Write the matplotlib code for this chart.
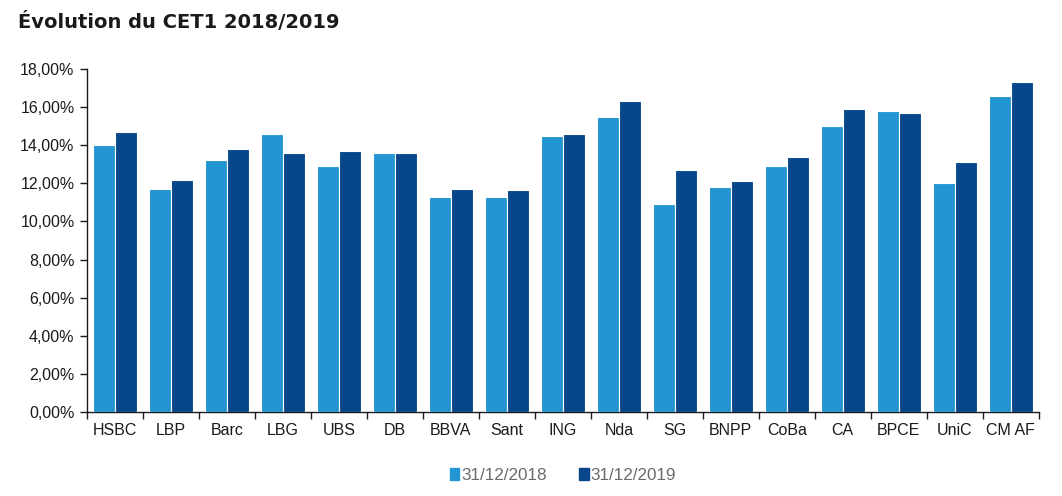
import numpy as np
import matplotlib.pyplot as plt
from matplotlib.ticker import FuncFormatter, FixedLocator
from matplotlib.patches import Patch

banks = ["HSBC", "LBP", "Barc", "LBG", "UBS", "DB", "BBVA", "Sant", "ING",
         "Nda", "SG", "BNPP", "CoBa", "CA", "BPCE", "UniC", "CM AF"]
cet1_2018 = [14.0, 11.7, 13.2, 14.6, 12.9, 13.6, 11.3, 11.3, 14.5,
             15.5, 10.9, 11.8, 12.9, 15.0, 15.8, 12.0, 16.6]
cet1_2019 = [14.7, 12.2, 13.8, 13.6, 13.7, 13.6, 11.7, 11.65, 14.6,
             16.3, 12.7, 12.1, 13.4, 15.9, 15.7, 13.1, 17.3]
yticks = [0, 2, 4, 6, 8, 10, 12, 14, 16, 18]

LIGHT, DARK = "#2395d3", "#08468c"
INK, GREY = "#1a1a1a", "#6b6b6b"

plt.rcParams["font.family"] = ["Liberation Sans", "DejaVu Sans"]

fig = plt.figure(figsize=(10.62, 4.96), dpi=100)
ax = fig.add_axes([0.082, 0.169, 0.896, 0.692])

x = np.arange(len(banks))
w = 0.395
ax.bar(x - w / 2, cet1_2018, w, color=LIGHT, edgecolor="white", lw=0.8, zorder=3)
ax.bar(x + w / 2, cet1_2019, w, color=DARK, edgecolor="white", lw=0.8, zorder=3)

ax.set_xlim(-0.5, len(banks) - 0.5)
ax.set_ylim(0, 18)
ax.set_yticks(yticks)
ax.yaxis.set_major_formatter(FuncFormatter(lambda v, _: f"{v:.2f}%".replace(".", ",")))

ax.set_xticks(x)
ax.set_xticklabels(banks)
ax.xaxis.set_minor_locator(FixedLocator(np.arange(len(banks) + 1) - 0.5))
ax.tick_params(axis="x", which="major", length=0, pad=8, labelsize=11.5, colors=INK)
ax.tick_params(axis="x", which="minor", length=5, width=1, color=INK)
ax.tick_params(axis="y", length=5, width=1, labelsize=11.5, colors=INK, pad=4)

for sp in ("top", "right"):
    ax.spines[sp].set_visible(False)
for sp in ("left", "bottom"):
    ax.spines[sp].set_color(INK)
    ax.spines[sp].set_linewidth(1)

leg = ax.legend(handles=[Patch(color=LIGHT, label="31/12/2018"),
                         Patch(color=DARK, label="31/12/2019")],
                loc="center", bbox_to_anchor=(0.5, -0.185), ncol=2, frameon=False,
                fontsize=12.3, handlelength=0.55, handleheight=0.7, handletextpad=0.1,
                columnspacing=1.9)
for t in leg.get_texts():
    t.set_color(GREY)

fig.text(0.017, 0.955, "Évolution du CET1 2018/2019", ha="left", va="center",
         fontsize=14, fontweight="bold", color=INK, family="DejaVu Sans")

fig.savefig("out.png", dpi=100, facecolor="white")
